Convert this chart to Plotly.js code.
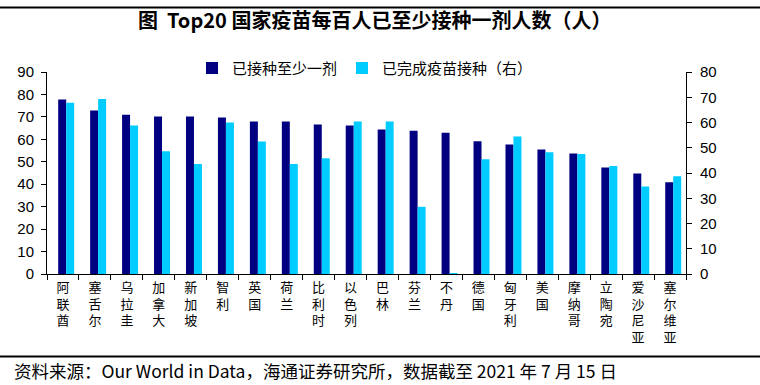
<!DOCTYPE html>
<html>
<head>
<meta charset="utf-8">
<script src="https://cdn.plot.ly/plotly-3.0.1.min.js"></script>
<style>html,body{margin:0;padding:0;background:#fff;}#chart{width:760px;height:385px;}</style>
</head>
<body>
<div id="chart"></div>
<script>
var countries = ["阿联酋","塞舌尔","乌拉圭","加拿大","新加坡","智利","英国","荷兰","比利时","以色列","巴林","芬兰","不丹","德国","匈牙利","美国","摩纳哥","立陶宛","爱沙尼亚","塞尔维亚"];
var atLeastOneDose = [77.7,72.8,71.0,70.2,70.2,69.7,67.9,67.9,66.6,66.2,64.4,63.8,62.9,59.1,57.7,55.5,53.7,47.5,44.8,40.9];
var fullyVaccinated = [67.8,69.3,58.8,48.6,43.6,60.0,52.5,43.6,45.8,60.4,60.4,26.6,0.4,45.4,54.5,48.2,47.5,42.8,34.7,38.7];
var seriesNames = ["已接种至少一剂","已完成疫苗接种（右）"];
var leftTicks = [0,10,20,30,40,50,60,70,80,90];
var rightTicks = [0,10,20,30,40,50,60,70,80];
var titleText = "图  Top20 国家疫苗每百人已至少接种一剂人数（人）";
var footerText = "资料来源：Our World in Data，海通证券研究所，数据截至 2021 年 7 月 15 日";

var tickText = countries.map(function(c){ return c.split("").join("<br>"); });

var cjk = '"Noto Sans CJK SC", sans-serif';
var latin = 'Arial, "Liberation Sans", sans-serif';

var traces = [
  {type:"bar", name:seriesNames[0], x:countries, y:atLeastOneDose, yaxis:"y",
   marker:{color:"#000080"}, width:0.25, offset:-0.15},
  {type:"bar", name:seriesNames[1], x:countries, y:fullyVaccinated, yaxis:"y2",
   marker:{color:"#00CCFF"}, width:0.25, offset:0.10}
];

var plotH = 274.3 - 71.7;
function py(Y){ return (274.3 - Y) / plotH; }

var layout = {
  width:760, height:385,
  margin:{l:47, r:74, t:72, b:111, pad:0},
  paper_bgcolor:"#fff", plot_bgcolor:"#fff",
  showlegend:true,
  title:{text:"<b>"+titleText+"</b>", x:0.493, xanchor:"center", y:1-21/385, yanchor:"middle",
         font:{family:cjk, size:20, color:"#000"}},
  legend:{orientation:"h", x:(192-47)/639, xanchor:"left", y:py(68), yanchor:"middle",
          font:{family:cjk, size:15, color:"#000"}, bgcolor:"rgba(0,0,0,0)", traceorder:"normal"},
  xaxis:{type:"category", tickvals:countries, ticktext:tickText, tickson:"boundaries",
         ticks:"outside", ticklen:5, tickcolor:"#000", showline:true, linecolor:"#000", linewidth:1,
         showgrid:false, zeroline:false, tickangle:0, ticklabelstandoff:1,
         tickfont:{family:cjk, size:13, color:"#000"}, range:[-0.5,19.5]},
  yaxis:{range:[0,90], tickvals:leftTicks, ticks:"outside", ticklen:5, tickcolor:"#000",
         showline:true, linecolor:"#000", linewidth:1, showgrid:false, zeroline:false, ticklabelstandoff:4,
         tickfont:{family:latin, size:15, color:"#000"}},
  yaxis2:{range:[0,80], tickvals:rightTicks, overlaying:"y", side:"right", ticks:"outside", ticklen:5,
          tickcolor:"#000", showline:true, linecolor:"#000", linewidth:1, showgrid:false, zeroline:false,
          ticklabelstandoff:5, tickfont:{family:latin, size:15, color:"#000"}},
  shapes:[
    {type:"line", xref:"paper", yref:"paper", x0:-47/639, x1:713/639, y0:py(7), y1:py(7), line:{color:"#000", width:2}},
    {type:"line", xref:"paper", yref:"paper", x0:-47/639, x1:713/639, y0:py(357), y1:py(357), line:{color:"#000", width:2}}
  ],
  annotations:[
    {text:footerText, xref:"paper", yref:"paper", x:(12-47)/639, xanchor:"left", y:py(371), yanchor:"middle",
     showarrow:false, font:{family:cjk, size:17.5, color:"#000"}}
  ]
};

Plotly.newPlot("chart", traces, layout, {displayModeBar:false, staticPlot:true});
</script>
</body>
</html>
